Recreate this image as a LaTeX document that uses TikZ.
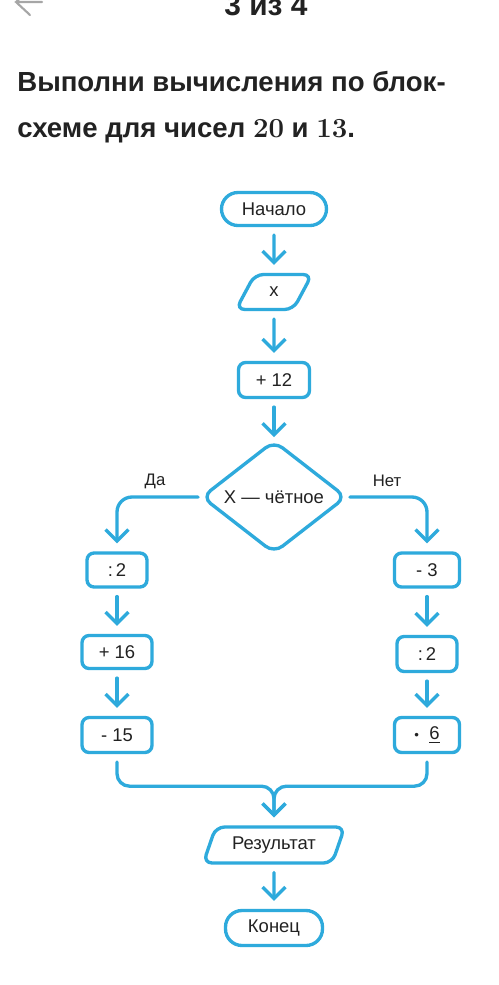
\documentclass[tikz,border=0pt]{standalone}
\usepackage{fontspec}
\setsansfont{Liberation Sans}
\usepackage{tikz}
\usetikzlibrary{shapes.geometric,arrows.meta}
\definecolor{flowblue}{HTML}{2EAADC}
\definecolor{inkgray}{HTML}{222222}

\begin{document}
\begin{tikzpicture}[x=0.02cm,y=-0.02cm,
  every node/.style={text=inkgray,font=\sffamily\fontsize{10.5}{12}\selectfont},
  blk/.style={draw=flowblue,line width=1.9pt,rounded corners=4pt,minimum height=0.7cm,inner sep=1pt},
  term/.style={blk,rounded corners=0.33cm,minimum height=0.66cm},
  io/.style={blk,trapezium,trapezium left angle=65,trapezium right angle=115,trapezium stretches=true,rounded corners=5pt},
  cond/.style={blk,diamond,minimum width=2.9cm,minimum height=2cm,rounded corners=6pt,inner sep=0pt},
  flow/.style={draw=flowblue,line width=1.9pt,line cap=round,-{Straight Barb[length=6.5pt,width=13pt]},shorten <=4.5pt,shorten >=4.5pt},
  lbl/.style={font=\sffamily\fontsize{9.5}{11}\selectfont},
  headline/.style={anchor=base west,inner sep=0pt,font=\sffamily\bfseries\fontsize{15.7}{18}\selectfont}]
\useasboundingbox (0,0) rectangle (498,985);
\clip (0,0) rectangle (498,985);
\fill[white] (0,0) rectangle (498,985);

\draw[gray!70,line width=1.2pt,line cap=round] (42,2) -- (16,2) (30,-11) -- (16,2) -- (30,15);
\node[anchor=base,font=\sffamily\bfseries\fontsize{17}{20}\selectfont] (pager) at (266,15) {3 из 4};
\node[headline] (head1) at (17,91) {Выполни вычисления по блок-};
\node[headline] (head2) at (17,137) {схеме для чисел \textrm{\bfseries 20} и \textrm{\bfseries 13}.};

\node[term,minimum width=2.1cm] (start) at (274,209) {Начало};
\node[io,minimum width=1.52cm] (inx) at (274,292) {x};
\node[blk,minimum width=1.42cm] (add12) at (274,380) {+ 12};
\node[cond] (even) at (274,497) {X — чётное};
\node[blk,minimum width=1.2cm,minimum height=0.68cm] (divl) at (117,570) {:\,2};
\node[blk,minimum width=1.4cm,minimum height=0.66cm] (add16) at (117,652) {+ 16};
\node[blk,minimum width=1.4cm] (sub15) at (117,735) {- 15};
\node[blk,minimum width=1.3cm,minimum height=0.68cm] (sub3) at (427,570) {- 3};
\node[blk,minimum width=1.2cm] (divr) at (427,654) {:\,2};
\node[blk,minimum width=1.3cm] (mul6) at (427,735) {{\fontsize{7.5}{9}\selectfont •}\ \ \underline{6}};
\node[io,minimum width=2.84cm,minimum height=0.72cm] (res) at (274,845) {Результат};
\node[term,minimum width=1.94cm,minimum height=0.7cm] (stop) at (274,928) {Конец};

\node[lbl] (yes) at (155,481) {Да};
\node[lbl] (no) at (387,481) {Нет};

\draw[flow] (start) -- (inx);
\draw[flow] (inx) -- (add12);
\draw[flow,shorten >=1pt] (add12) -- (even);
\draw[flow,shorten <=1pt,rounded corners=0.3cm] (even.west) -| (divl.north);
\draw[flow,shorten <=1pt,rounded corners=0.3cm] (even.east) -| (sub3.north);
\draw[flow] (divl) -- (add16);
\draw[flow] (add16) -- (sub15);
\draw[flow] (sub3) -- (divr);
\draw[flow] (divr) -- (mul6);
\draw[flow,rounded corners=0.25cm] (sub15.south) -- ++(0,32) -| (res.north);
\draw[flow,rounded corners=0.25cm] (mul6.south) -- ++(0,32) -| (res.north);
\draw[flow] (res) -- (stop);
\end{tikzpicture}
\end{document}
